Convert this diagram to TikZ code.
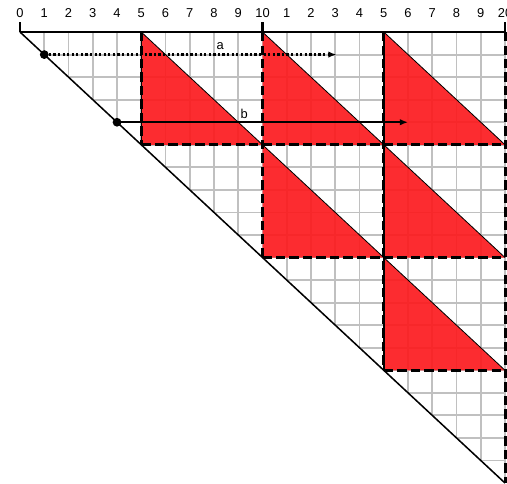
\documentclass[tikz,border=0pt]{standalone}
\usepackage{fontspec}
\setsansfont{Liberation Sans}
\usetikzlibrary{arrows.meta}
\definecolor{blockred}{RGB}{252,26,30}
\definecolor{gridgray}{RGB}{192,192,192}

\begin{document}
\begin{tikzpicture}[x=0.7275cm, y=-0.6765cm,
    font=\sffamily\fontsize{11}{13}\selectfont, >={Latex[length=7pt,width=5.5pt]},
    bound/.style={draw=black,line width=1.8pt},
    blk/.style={draw=black,line width=2.6pt,dash pattern=on 8pt off 3.5pt},
    tri/.style={fill=blockred,fill opacity=0.92},
    hyp/.style={draw=black,line width=0.7pt},
    dot/.style={circle,fill=black,inner sep=0pt,minimum size=7.5pt},
    lbl/.style={font=\sffamily\fontsize{11}{13}\selectfont}]
  \useasboundingbox (-0.825,-1.42) rectangle (20.08,20);

  % grid above the diagonal
  \foreach \i in {1,...,20}{
    \draw[gridgray,line width=1.6pt] (\i,0) -- (\i,\i);
    \draw[gridgray,line width=1.6pt] (\i-1,\i-1) -- (20,\i-1);
  }

  % red triangles in the blocks
  \foreach \r/\c in {0/1,0/2,0/3,1/2,1/3,2/3}{
    \fill[tri] (5*\c,5*\r) -- (5*\c,5*\r+5) -- (5*\c+5,5*\r+5) -- cycle;
    \draw[hyp] (5*\c,5*\r) -- (5*\c+5,5*\r+5);
  }
  \draw[line width=1pt] (5,0) -- (5,5);
  \draw[line width=2.2pt] (15,0) -- (15,15);

  % block borders
  \foreach \k in {5,10,15,20}
    \draw[blk] (\k,0) -- (\k,\k);
  \foreach \k in {5,10,15}
    \draw[blk] (\k,\k) -- (20,\k);

  % frame and diagonal
  \draw[bound] (0,0) -- (20,0);
  \foreach \k in {0,10,20}
    \draw[bound] (\k,0) -- (\k,-0.45);
  \draw[line width=1.3pt] (0,0) -- (20,20);

  % column numbers
  \foreach \i in {0,...,20}{
    \pgfmathtruncatemacro\d{\i==10 ? 10 : (\i==20 ? 20 : mod(\i,10))}
    \node (num\i) at (\i,-0.84) {\d};
  }

  % a and b
  \node[dot] (adot) at (1,1) {};
  \coordinate (aend) at (13.05,1);
  \draw[->,line width=1.9pt,dotted] (adot.center) -- (aend);
  \node[lbl] (alab) at (8.25,0.64) {a};

  \node[dot] (bdot) at (4,4) {};
  \coordinate (bend) at (16,4);
  \draw[->,line width=1.6pt] (bdot.center) -- (bend);
  \node[lbl] (blab) at (9.24,3.62) {b};
\end{tikzpicture}
\end{document}
